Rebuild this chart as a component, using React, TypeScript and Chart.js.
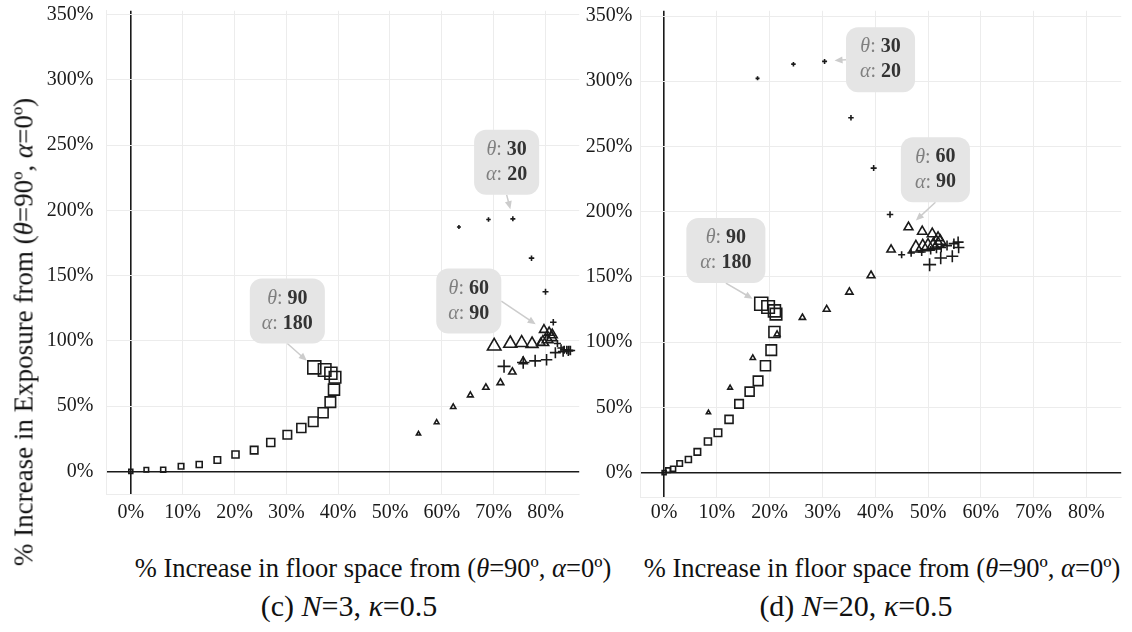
import React, { useEffect, useRef } from "react";
import { Chart, registerables } from "chart.js";

Chart.register(...registerables);

const SERIF = '"Liberation Serif", "DejaVu Serif", serif';
const INK = "#1a1a1a";
const GRID = "#ececec";

// Step of the alpha angle (degrees) shared by every series.
const ALPHA = [0, 10, 20, 30, 40, 50, 60, 70, 80, 90, 100, 110, 120, 130, 140, 150, 160, 170, 180];

const X_TICKS = [0, 10, 20, 30, 40, 50, 60, 70, 80];
const Y_TICKS = [0, 50, 100, 150, 200, 250, 300, 350];

// (c) N = 3, kappa = 0.5 — % increase in floor space (x) and exposure (y)
const C_THETA90_X = [0, 3.0, 6.25, 9.7, 13.2, 16.7, 20.2, 23.8, 27.0, 30.2, 32.9, 35.2, 37.1, 38.5, 39.2, 39.4, 38.6, 37.4, 35.4];
const C_THETA90_Y = [0, 1.3, 1.3, 4.0, 5.3, 8.8, 13.0, 16.3, 22.1, 28.1, 33.3, 38.1, 44.9, 53.1, 62.7, 72.2, 75.2, 77.7, 79.7];
const C_THETA60_X = [55.5, 59.0, 62.2, 65.5, 68.5, 71.3, 73.6, 75.7, 79.1, 79.7, 80.7, 81.3, 81.2, 80.4, 79.5, 77.4, 75.4, 73.2, 70.1];
const C_THETA60_Y = [28.8, 37.6, 49.4, 58.4, 64.3, 68.0, 76.2, 84.3, 98.5, 108.5, 106.4, 104.6, 102.5, 101.0, 99.0, 97.7, 98.5, 98.0, 96.0];
const C_THETA30_X = [63.3, 69.0, 73.7, 77.3, 80.0, 81.5, 82.3, 83.0, 83.6, 84.1, 84.5, 84.8, 84.4, 83.4, 81.9, 80.2, 78.0, 75.7, 72.0];
const C_THETA30_Y = [187.2, 193.0, 193.5, 163.4, 137.6, 114.3, 98.0, 94.5, 93.2, 93.0, 92.8, 92.6, 92.3, 91.8, 91.0, 85.5, 84.7, 83.5, 80.5];

// (d) N = 20, kappa = 0.5
const D_THETA90_X = [0, 0.75, 1.7, 2.95, 4.6, 6.3, 8.3, 10.2, 12.3, 14.2, 16.2, 17.8, 19.2, 20.3, 20.9, 21.2, 20.9, 19.7, 18.4];
const D_THETA90_Y = [0, 1.9, 3.0, 7.0, 10.0, 15.9, 23.8, 30.6, 40.8, 52.7, 62.1, 70.3, 81.9, 93.9, 107.8, 121.5, 124.0, 126.9, 129.4];
const D_THETA60_X = [8.4, 12.5, 16.8, 21.4, 26.2, 30.8, 35.1, 39.2, 43.0, 46.3, 48.9, 50.8, 51.9, 52.3, 51.9, 51.0, 50.0, 49.0, 47.7];
const D_THETA60_Y = [46.0, 65.0, 87.9, 106.1, 118.8, 125.2, 138.4, 151.1, 170.9, 188.1, 184.8, 183.0, 180.0, 177.5, 175.5, 174.5, 173.8, 173.0, 172.1];
const D_THETA30_X = [17.7, 24.5, 30.4, 35.4, 39.7, 42.8, 45.0, 46.8, 48.8, 50.5, 51.6, 52.5, 53.6, 54.9, 55.7, 55.8, 54.6, 52.4, 50.3];
const D_THETA30_Y = [302.2, 313.1, 315.2, 272.0, 233.4, 197.8, 167.0, 168.3, 169.1, 170.5, 171.5, 172.5, 174.0, 175.5, 176.7, 172.5, 165.8, 164.5, 159.4];

// Highlighted (theta, alpha) combinations
const C_CALLOUT_THETA = [90, 30, 60];
const C_CALLOUT_ALPHA = [180, 20, 90];
const D_CALLOUT_THETA = [90, 30, 60];
const D_CALLOUT_ALPHA = [180, 20, 90];

// marker size grows with alpha
const markerSize = (alpha: number) => 4 + 0.05 * alpha;

type Side = "bottom" | "left" | "right";

const toPoints = (xs: number[], ys: number[]) => xs.map((x, i) => ({ x, y: ys[i] }));

function series(theta: number, xs: number[], ys: number[], style: string, k: number) {
  return {
    theta,
    data: toPoints(xs, ys),
    pointStyle: style,
    pointRadius: (c: any) => markerSize(ALPHA[c.dataIndex]) * k,
    pointHoverRadius: (c: any) => markerSize(ALPHA[c.dataIndex]) * k,
    pointBorderColor: INK,
    pointBackgroundColor: "rgba(0,0,0,0)",
    pointBorderWidth: 1.6,
    pointHoverBorderWidth: 1.6,
  };
}

// Rounded grey labels with an arrow pointing at the highlighted marker
const calloutPlugin = {
  id: "callouts",
  afterDatasetsDraw(chart: any, _args: any, opts: any) {
    const { ctx, scales } = chart;
    const size = opts.fontSize;
    const fontOf = (p: any) => `${p.italic ? "italic " : ""}${p.bold ? "bold " : ""}${size}px ${SERIF}`;
    ctx.save();
    for (const c of opts.items) {
      const dsIndex = chart.data.datasets.findIndex((d: any) => d.theta === c.theta);
      const el = chart.getDatasetMeta(dsIndex).data[ALPHA.indexOf(c.alpha)];
      const cx = scales.x.getPixelForValue(c.x);
      const cy = scales.y.getPixelForValue(c.y);
      const lines = [
        [
          { t: "θ", italic: true, color: "#808080" },
          { t: ": ", color: "#808080" },
          { t: String(c.theta), bold: true, color: "#333333" },
        ],
        [
          { t: "α", italic: true, color: "#808080" },
          { t: ": ", color: "#808080" },
          { t: String(c.alpha), bold: true, color: "#333333" },
        ],
      ];
      const widths = lines.map((parts) =>
        parts.reduce((s: number, p: any) => {
          ctx.font = fontOf(p);
          return s + ctx.measureText(p.t).width;
        }, 0)
      );
      const w = Math.max(...widths) + 2 * opts.padX;
      const h = 2 * opts.lineGap + 2 * opts.padY;

      // arrow from the box edge towards the marker
      let sx = cx, sy = cy + h / 2;
      if (c.side === "left") { sx = cx - w / 2; sy = cy; }
      if (c.side === "right") { sx = cx + w / 2; sy = cy; }
      const dx = el.x - sx, dy = el.y - sy;
      const len = Math.hypot(dx, dy);
      const ux = dx / len, uy = dy / len;
      const ex = el.x - ux * opts.gap, ey = el.y - uy * opts.gap;
      const head = 8, half = 3.5;
      ctx.strokeStyle = "#cccccc";
      ctx.fillStyle = "#cccccc";
      ctx.lineWidth = 1.5;
      ctx.beginPath();
      ctx.moveTo(sx, sy);
      ctx.lineTo(ex - ux * head * 0.8, ey - uy * head * 0.8);
      ctx.stroke();
      ctx.beginPath();
      ctx.moveTo(ex, ey);
      ctx.lineTo(ex - ux * head - uy * half, ey - uy * head + ux * half);
      ctx.lineTo(ex - ux * head + uy * half, ey - uy * head - ux * half);
      ctx.closePath();
      ctx.fill();

      // box
      ctx.fillStyle = "#e5e5e5";
      ctx.beginPath();
      ctx.roundRect(cx - w / 2, cy - h / 2, w, h, opts.radius);
      ctx.fill();

      // text
      ctx.textBaseline = "middle";
      ctx.textAlign = "left";
      lines.forEach((parts, li) => {
        let x = cx - widths[li] / 2;
        const y = cy + (li === 0 ? -opts.lineGap / 2 : opts.lineGap / 2);
        for (const p of parts as any[]) {
          ctx.font = fontOf(p);
          ctx.fillStyle = p.color;
          ctx.fillText(p.t, x, y);
          x += ctx.measureText(p.t).width;
        }
      });
    }
    ctx.restore();
  },
};

// Percent labels of the exposure axis
const yLabelPlugin = {
  id: "yLabels",
  afterDraw(chart: any, _args: any, opts: any) {
    const { ctx, chartArea, scales } = chart;
    ctx.save();
    ctx.font = `20px ${SERIF}`;
    ctx.fillStyle = INK;
    ctx.textAlign = "right";
    ctx.textBaseline = "middle";
    for (const v of Y_TICKS) {
      const y = Math.max(scales.y.getPixelForValue(v), opts.minY);
      ctx.fillText(`${v}%`, chartArea.left - opts.pad, y);
    }
    ctx.restore();
  },
};

type PanelSpec = {
  width: number;
  height: number;
  xMin: number;
  xMax: number;
  yMin: number;
  yMax: number;
  padRight: number;
  padTop: number;
  yAxisWidth: number;
  xAxisHeight: number;
  xLabelPad: number;
  yLabelPad: number;
  boxPadX: number;
  datasets: any[];
  callouts: { theta: number; alpha: number; x: number; y: number; side: Side }[];
};

const zeroAware = (c: any, zero: any, other: any) => (c.tick && c.tick.value === 0 ? zero : other);

function Panel({ spec, left }: { spec: PanelSpec; left: number }) {
  const ref = useRef<HTMLCanvasElement>(null);
  useEffect(() => {
    const chart = new Chart(ref.current as HTMLCanvasElement, {
      type: "scatter",
      data: { datasets: spec.datasets },
      plugins: [calloutPlugin, yLabelPlugin],
      options: {
        animation: false,
        responsive: false,
        devicePixelRatio: 1,
        events: [],
        layout: { padding: { left: 0, right: spec.padRight, top: spec.padTop, bottom: 0 } },
        plugins: {
          legend: { display: false },
          tooltip: { enabled: false },
          callouts: { items: spec.callouts, fontSize: 20, lineGap: 25, padX: spec.boxPadX, padY: 7.5, radius: 12, gap: 10 },
          yLabels: { pad: spec.yLabelPad, minY: 15 },
        } as any,
        scales: {
          x: {
            type: "linear",
            min: spec.xMin,
            max: spec.xMax,
            afterBuildTicks: (s: any) => {
              s.ticks = X_TICKS.map((value) => ({ value }));
            },
            afterFit: (s: any) => {
              s.height = spec.xAxisHeight;
            },
            grid: {
              drawTicks: false,
              color: (c: any) => zeroAware(c, INK, GRID),
              lineWidth: (c: any) => zeroAware(c, 1.6, 1),
            },
            border: { display: true, color: GRID, width: 1 },
            ticks: {
              font: { family: SERIF, size: 20 },
              color: INK,
              padding: spec.xLabelPad,
              maxRotation: 0,
              autoSkip: false,
              callback: (v: any) => `${v}%`,
            },
          },
          y: {
            type: "linear",
            min: spec.yMin,
            max: spec.yMax,
            afterBuildTicks: (s: any) => {
              s.ticks = Y_TICKS.map((value) => ({ value }));
            },
            afterFit: (s: any) => {
              s.width = spec.yAxisWidth;
            },
            grid: {
              drawTicks: false,
              color: (c: any) => zeroAware(c, INK, GRID),
              lineWidth: (c: any) => zeroAware(c, 1.6, 1),
            },
            border: { display: true, color: GRID, width: 1 },
            ticks: { display: false },
          },
        },
      } as any,
    });
    return () => chart.destroy();
  }, [spec]);
  return (
    <canvas
      ref={ref}
      width={spec.width}
      height={spec.height}
      style={{ position: "absolute", left, top: 0, width: spec.width, height: spec.height }}
    />
  );
}

const panelC: PanelSpec = {
  width: 590,
  height: 540,
  xMin: -4.78,
  xMax: 86.5,
  yMin: -17.3,
  yMax: 352.9,
  padRight: 7,
  padTop: 2,
  yAxisWidth: 106,
  xAxisHeight: 46,
  xLabelPad: 7,
  yLabelPad: 12.5,
  boxPadX: 12,
  datasets: [
    series(90, C_THETA90_X, C_THETA90_Y, "rect", 0.707),
    series(60, C_THETA60_X, C_THETA60_Y, "triangle", 0.6),
    series(30, C_THETA30_X, C_THETA30_Y, "cross", 0.5),
  ],
  callouts: [
    { theta: C_CALLOUT_THETA[0], alpha: C_CALLOUT_ALPHA[0], x: 30.2, y: 122.9, side: "bottom" },
    { theta: C_CALLOUT_THETA[1], alpha: C_CALLOUT_ALPHA[1], x: 72.5, y: 236.8, side: "bottom" },
    { theta: C_CALLOUT_THETA[2], alpha: C_CALLOUT_ALPHA[2], x: 65.2, y: 130.5, side: "right" },
  ],
};

const panelD: PanelSpec = {
  width: 577,
  height: 540,
  xMin: -4.57,
  xMax: 86.6,
  yMin: -18.7,
  yMax: 354,
  padRight: 7,
  padTop: 8,
  yAxisWidth: 85,
  xAxisHeight: 43,
  xLabelPad: 4,
  yLabelPad: 7.5,
  boxPadX: 14,
  datasets: [
    series(90, D_THETA90_X, D_THETA90_Y, "rect", 0.707),
    series(60, D_THETA60_X, D_THETA60_Y, "triangle", 0.6),
    series(30, D_THETA30_X, D_THETA30_Y, "cross", 0.5),
  ],
  callouts: [
    { theta: D_CALLOUT_THETA[0], alpha: D_CALLOUT_ALPHA[0], x: 11.7, y: 170.2, side: "bottom" },
    { theta: D_CALLOUT_THETA[1], alpha: D_CALLOUT_ALPHA[1], x: 41.0, y: 316.5, side: "left" },
    { theta: D_CALLOUT_THETA[2], alpha: D_CALLOUT_ALPHA[2], x: 51.4, y: 232.1, side: "bottom" },
  ],
};

const textBase: React.CSSProperties = {
  position: "absolute",
  whiteSpace: "nowrap",
  fontFamily: SERIF,
  color: "#111",
  transform: "translate(-50%, -50%)",
  lineHeight: 1,
};

function AxisTitle({ x, y, label, size, rotate }: { x: number; y: number; label: string; size: number; rotate?: boolean }) {
  return (
    <div style={{ ...textBase, left: x, top: y, fontSize: size, transform: rotate ? "translate(-50%, -50%) rotate(-90deg)" : textBase.transform }}>
      % {label} from (<i>θ</i>=90º, <i>α</i>=0º)
    </div>
  );
}

export default function App() {
  return (
    <div style={{ position: "fixed", left: 0, top: 0, width: 1132, height: 632, background: "#fff", overflow: "hidden" }}>
      <Panel spec={panelC} left={0} />
      <Panel spec={panelD} left={555} />
      <AxisTitle x={24} y={332} size={27} label="Increase in Exposure" rotate />
      <AxisTitle x={373} y={568} size={26.5} label="Increase in floor space" />
      <AxisTitle x={882} y={568} size={26.5} label="Increase in floor space" />
      <div style={{ ...textBase, left: 349, top: 606, fontSize: 30 }}>
        (c) <i>N</i>=3, <i>κ</i>=0.5
      </div>
      <div style={{ ...textBase, left: 856, top: 606, fontSize: 30 }}>
        (d) <i>N</i>=20, <i>κ</i>=0.5
      </div>
    </div>
  );
}
